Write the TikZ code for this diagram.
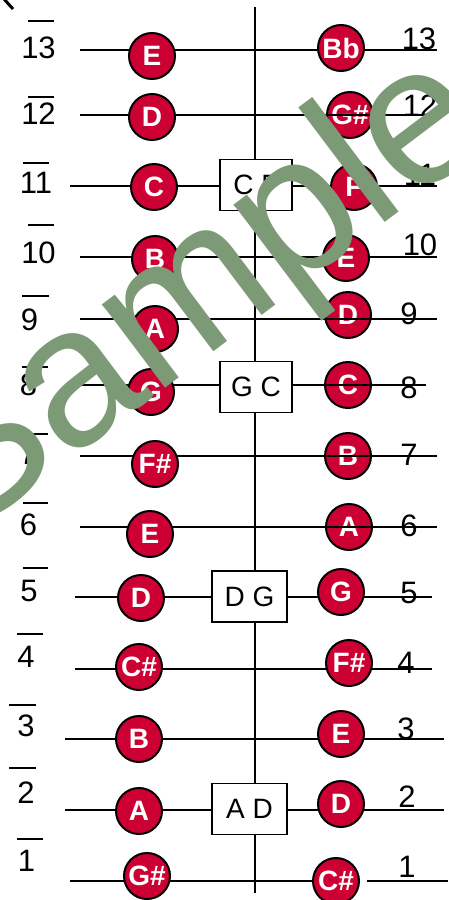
\documentclass[tikz,border=0pt]{standalone}
\usepackage{fontspec}
\setmainfont{Liberation Sans}
\newfontfamily\wmfont{Liberation Sans}
\definecolor{notered}{RGB}{204,0,51}
\definecolor{wmgreen}{RGB}{125,154,118}
\pgfdeclarelayer{low}
\pgfdeclarelayer{mid}
\pgfsetlayers{low,mid,main}
\begin{document}
\begin{tikzpicture}[x=1pt,y=-1pt,
  note/.style={circle, draw=black, line width=2pt, fill=notered, text=white,
    font=\fontsize{28}{28}\selectfont\bfseries, minimum size=46pt, inner sep=0pt},
  fretline/.style={line width=2pt, draw=black},
  bar/.style={line width=1.8pt, draw=black},
  tuning/.style={draw=black, line width=1.5pt, fill=white, minimum width=73pt,
    minimum height=51pt, inner sep=0pt, font=\fontsize{28}{28}\selectfont},
  num/.style={inner sep=0pt, font=\fontsize{31}{31}\selectfont}]
\useasboundingbox (0,0) rectangle (448,900);

% vertical line
\coordinate (vtop) at (255,7);
\coordinate (vbot) at (255,893);
\begin{pgfonlayer}{low}
\draw[fretline] (vtop) -- (vbot);
\end{pgfonlayer}

% left numbers with bars
\foreach \t/\cx/\cy/\ba/\bb/\by in {13/38.5/48/28/54/21, 12/38.5/114/28/54/97, 11/36/183/23/49/163,
  10/38.5/253/28/54/225, 9/29.5/320/22/49/296, 8/28.5/385/22/48/367, 7/28/454/22/48/434,
  6/28.5/525/23/48/503, 5/29/591/23/48/568, 4/26/657/17/43/634, 3/26/726/9/36/705,
  2/26/793/9/36/768, 1/26.5/861/17/43/839}{
  \node[num] (ln\t) at (\cx,\cy) {\t};
  \coordinate (lba\t) at (\ba,\by);
  \coordinate (lbb\t) at (\bb,\by);
  \draw[bar] (lba\t) -- (lbb\t);
}

% right numbers (under lines)
\begin{pgfonlayer}{low}
\foreach \t/\cx/\cy in {13/419/39, 12/420/106, 11/420/175, 10/420/245, 9/409/314, 8/409/388,
  7/409/455, 6/409/526, 5/409/593, 4/406/663, 3/406/729, 2/407/797, 1/407/867}{
  \node[num] (rn\t) at (\cx,\cy) {\t};
}
\end{pgfonlayer}

% rows: r / line y / left start / right end / left circle x,y,text / right circle x,y,text / over
\foreach \r/\y/\ls/\re/\lx/\lcy/\lt/\rx/\rcy/\rt/\ov in {
  13/50/80/437/152/56/E/341/48/Bb/0,
  12/115/80/437/152/117/D/350/115/G\#/1,
  11/186/70/437/154/187/C/354/187/F/0,
  10/257/80/437/155/259/B/346/258/E/0,
  9/319/80/437/155/329/A/348/315/D/1,
  8/385/70/426/151/392/G/348/385/C/1,
  7/456/80/437/155/464/F\#/348/456/B/1,
  6/527/80/437/150/534/E/349/527/A/1,
  5/597/75/432/141/598/D/341/592/G/0,
  4/669/75/432/139/667/C\#/349/663/F\#/0,
  3/739/65/444/139/739/B/341/734/E/0,
  2/810/65/444/139/811/A/341/804/D/0}{
  \coordinate (L\r) at (\ls,\y);
  \coordinate (R\r) at (\re,\y);
  \begin{pgfonlayer}{mid}
  \draw[fretline] (L\r) -- (R\r);
  \end{pgfonlayer}
  \node[note] (l\r) at (\lx,\lcy) {\lt};
  \ifnum\ov=1
    \begin{pgfonlayer}{low}
    \node[note] (r\r) at (\rx,\rcy) {\rt};
    \end{pgfonlayer}
  \else
    \node[note] (r\r) at (\rx,\rcy) {\rt};
  \fi
}

% row 1 with gap
\coordinate (L1) at (70,881);
\coordinate (G1) at (367,881);
\coordinate (R1) at (448,881);
\node[note] (l1) at (147,876) {G\#};
\node[note] (r1) at (336,881) {C\#};
\begin{pgfonlayer}{mid}
\draw[fretline] (L1) -- (r1.west);
\draw[fretline] (G1) -- (R1);
\end{pgfonlayer}

% tuning boxes
\node[tuning, minimum width=72pt] (cf) at (256,185) {C F};
\node[tuning, minimum width=72pt] (gc) at (256,387) {G C};
\node[tuning, minimum width=75pt] (dg) at (249.5,596.5) {D G};
\node[tuning, minimum width=75pt] (ad) at (249.5,809) {A D};

% small stroke at top left
\coordinate (s1) at (4,-1);
\coordinate (s2) at (13,9);
\draw[line width=3pt] (s1) -- (s2);

% watermark
\node[anchor=base west, rotate=37, inner sep=0pt, text=wmgreen,
  font=\wmfont\fontsize{198}{198}\selectfont] (wm) at (-39,542) {Sample};
\end{tikzpicture}
\end{document}
